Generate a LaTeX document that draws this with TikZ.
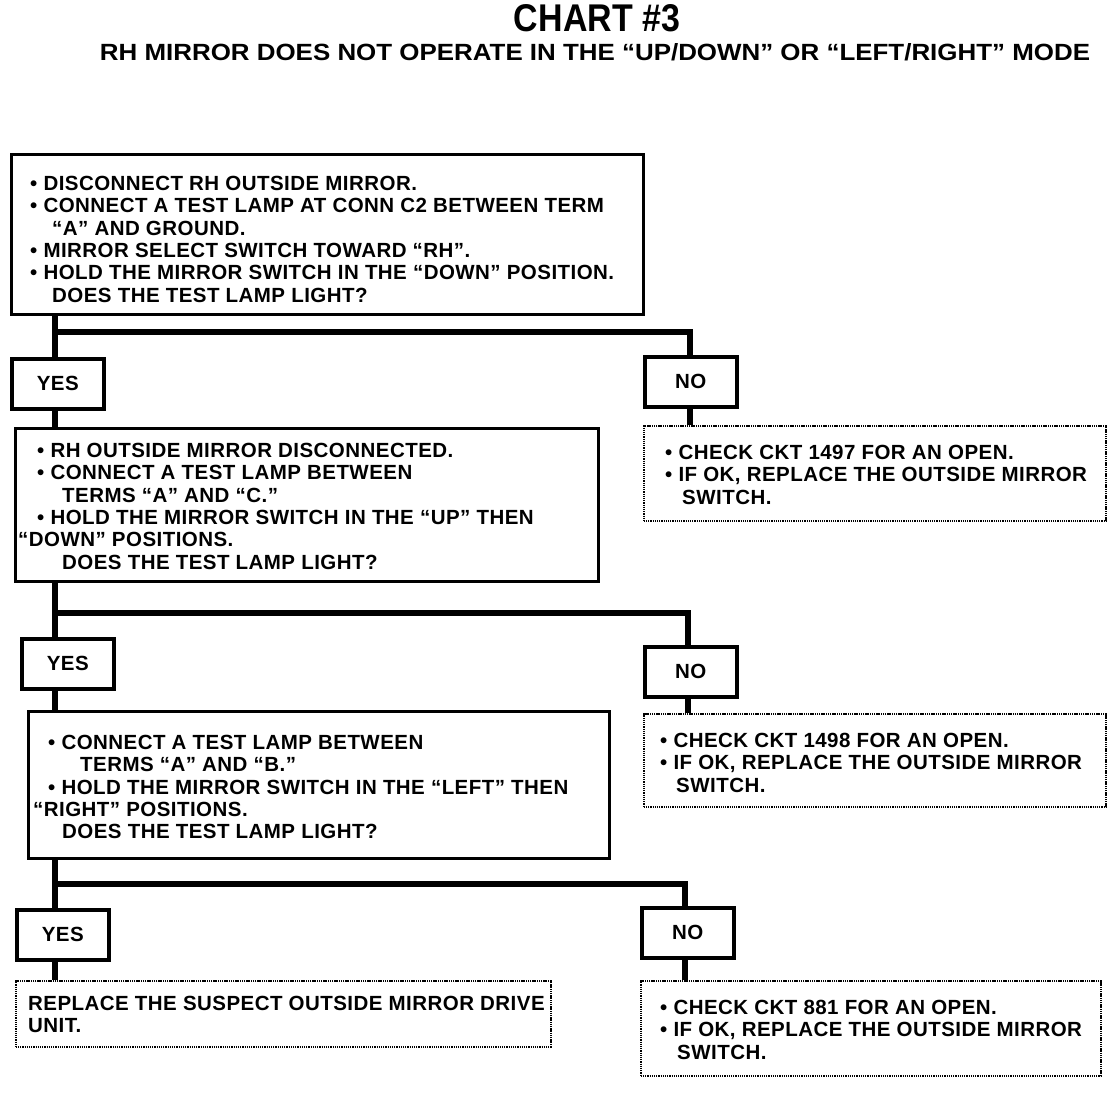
\documentclass[tikz,border=0pt]{standalone}
\usepackage{fontspec}
\usepackage{graphicx}
\setmainfont{Liberation Sans}
\newfontfamily\bodyfam[LetterSpace=2.2]{Liberation Sans}
\newcommand{\bodyfnt}{\bodyfam\fontsize{20.5}{22.3}\selectfont\bfseries}
\begin{document}
\begin{tikzpicture}[x=1pt,y=-1pt,
  solidbox/.style={draw, line width=3pt, rectangle, inner sep=0pt, anchor=north west},
  dashbox/.style={draw, line width=1.5pt, dash pattern=on 1.3pt off 0.9pt, rectangle, inner sep=0pt, anchor=north west},
  ynbox/.style={draw, line width=3.5pt, rectangle, inner sep=0pt, minimum width=92pt, minimum height=50pt, anchor=north west, font=\bodyfnt},
  body/.style={anchor=north west, inner sep=0pt, align=left, font=\bodyfnt},
  conn/.style={line width=6pt, line join=miter}]
\useasboundingbox[fill=white] (0,0) rectangle (1120,1112);

% titles
\node[inner sep=0pt] (title) at (597,18) {\resizebox{166pt}{27pt}{\bfseries CHART \#3}};
\node[inner sep=0pt] (subtitle) at (595,52) {\resizebox{990pt}{17pt}{\bfseries RH MIRROR DOES NOT OPERATE IN THE “UP/DOWN” OR “LEFT/RIGHT” MODE}};

% level 1
\node[solidbox, minimum width=632pt, minimum height=160pt] (b1) at (10,153) {};
\node[body] (t1) at (30,176) {• DISCONNECT RH OUTSIDE MIRROR.\\
• CONNECT A TEST LAMP AT CONN C2 BETWEEN TERM\\
\hspace*{22pt}“A” AND GROUND.\\
• MIRROR SELECT SWITCH TOWARD “RH”.\\
• HOLD THE MIRROR SWITCH IN THE “DOWN” POSITION.\\
\hspace*{22pt}DOES THE TEST LAMP LIGHT?};

\node[ynbox] (y1) at (10,357) {YES};
\node[ynbox] (n1) at (643,355) {NO};
\node[dashbox, minimum width=462pt, minimum height=95pt] (d1) at (643,425) {};
\node[body] (td1) at (665,445) {• CHECK CKT 1497 FOR AN OPEN.\\
• IF OK, REPLACE THE OUTSIDE MIRROR\\
\hspace*{17pt}SWITCH.};

% level 2
\node[solidbox, minimum width=583pt, minimum height=153pt] (b2) at (14,427) {};
\node[body] (t2) at (18,443) {\hspace*{19pt}• RH OUTSIDE MIRROR DISCONNECTED.\\
\hspace*{19pt}• CONNECT A TEST LAMP  BETWEEN\\
\hspace*{44pt}TERMS “A” AND “C.”\\
\hspace*{19pt}• HOLD THE MIRROR SWITCH IN THE “UP” THEN\\
“DOWN” POSITIONS.\\
\hspace*{44pt}DOES THE TEST LAMP LIGHT?};

\node[ynbox] (y2) at (20,637) {YES};
\node[ynbox] (n2) at (643,645) {NO};
\node[dashbox, minimum width=462pt, minimum height=93pt] (d2) at (643,713) {};
\node[body] (td2) at (660,733) {• CHECK CKT 1498 FOR AN OPEN.\\
• IF OK, REPLACE THE OUTSIDE MIRROR\\
\hspace*{16pt}SWITCH.};

% level 3
\node[solidbox, minimum width=581pt, minimum height=147pt] (b3) at (27,710) {};
\node[body] (t3) at (33,735) {\hspace*{15pt}• CONNECT A TEST LAMP  BETWEEN\\
\hspace*{47pt}TERMS “A” AND “B.”\\
\hspace*{15pt}• HOLD THE MIRROR SWITCH IN THE “LEFT” THEN\\
“RIGHT” POSITIONS.\\
\hspace*{29pt}DOES THE TEST LAMP LIGHT?};

\node[ynbox] (y3) at (15,908) {YES};
\node[ynbox] (n3) at (640,906) {NO};
\node[dashbox, minimum width=535pt, minimum height=66pt] (d3) at (15,980) {};
\node[body] (td3) at (28,996) {REPLACE THE SUSPECT OUTSIDE MIRROR DRIVE\\
UNIT.};
\node[dashbox, minimum width=460pt, minimum height=95pt] (d4) at (640,980) {};
\node[body] (td4) at (660,1000) {• CHECK CKT 881 FOR AN OPEN.\\
• IF OK, REPLACE THE OUTSIDE MIRROR\\
\hspace*{17pt}SWITCH.};

% connectors
\coordinate (j1) at (55,332);
\coordinate (k1) at (690,332);
\draw[conn] (b1.south -| j1) -- (y1.north -| j1);
\draw[conn] (j1) -- (k1) -- (n1.north -| k1);
\draw[conn] (n1.south -| k1) -- (d1.north -| k1);
\draw[conn] (y1.south -| j1) -- (b2.north -| j1);

\coordinate (j2) at (55,613);
\coordinate (k2) at (688,613);
\draw[conn] (b2.south -| j2) -- (y2.north -| j2);
\draw[conn] (j2) -- (k2) -- (n2.north -| k2);
\draw[conn] (n2.south -| k2) -- (d2.north -| k2);
\draw[conn] (y2.south -| j2) -- (b3.north -| j2);

\coordinate (j3) at (55,884);
\coordinate (k3) at (685,884);
\draw[conn] (b3.south -| j3) -- (y3.north -| j3);
\draw[conn] (j3) -- (k3) -- (n3.north -| k3);
\draw[conn] (n3.south -| k3) -- (d4.north -| k3);
\draw[conn] (y3.south -| j3) -- (d3.north -| j3);
\end{tikzpicture}
\end{document}
